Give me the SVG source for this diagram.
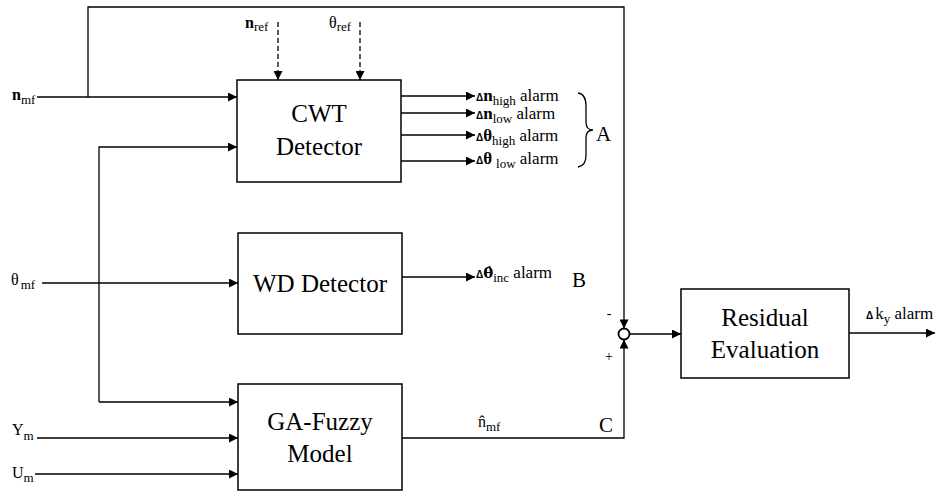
<svg xmlns="http://www.w3.org/2000/svg" width="941" height="492" viewBox="0 0 941 492" font-family="'Liberation Serif', 'DejaVu Serif', serif">
<defs>
<marker id="ah" viewBox="0 0 10 10" refX="10" refY="5" markerWidth="10" markerHeight="9" markerUnits="userSpaceOnUse" orient="auto">
<path d="M0,0 L10,5 L0,10 z" fill="#000"/>
</marker>
</defs>
<style>
.box{fill:#fff;stroke:#000;stroke-width:1.5}
.ln{fill:none;stroke:#000;stroke-width:1.3}
.arr{fill:none;stroke:#000;stroke-width:1.3;marker-end:url(#ah)}
.dash{stroke-dasharray:5 3}
.t{font-family:'Liberation Serif','DejaVu Serif',serif;fill:#000}
.big{font-size:25px;text-anchor:middle}
.lbl{font-size:17px}
.sml{font-size:16px}
.sub{font-size:13px}
.b{font-weight:bold}
.dl{font-family:'Liberation Sans','DejaVu Sans',sans-serif;font-weight:bold;font-size:10px}
.dv{font-family:'DejaVu Serif',serif;font-weight:bold;font-size:15px}
.let{font-size:21px}
</style>
<rect width="941" height="492" fill="#fff"/>
<g id="connectors">
<path class="arr" d="M37,97 L237,97"/>
<path class="arr" d="M88,97 L88,7 L624,7 L624,328.5"/>
<path class="arr" d="M99,402 L99,147 L237,147"/>
<path class="arr" d="M99,402 L238,402"/>
<path class="arr" d="M42,283 L238,283"/>
<path class="arr" d="M37,438 L238,438"/>
<path class="arr" d="M35,474 L238,474"/>
<path class="arr dash" d="M278,22 L278,80"/>
<path class="arr dash" d="M360,22 L360,80"/>
<path class="arr" d="M401,96 L475,96"/>
<path class="arr" d="M401,113 L475,113"/>
<path class="arr" d="M401,135 L475,135"/>
<path class="arr" d="M401,161 L475,161"/>
<path class="arr" d="M402,277 L475,277"/>
<path class="arr" d="M402,438 L624,438 L624,339.5"/>
<path class="arr" d="M629.5,334 L681,334"/>
<path class="arr" d="M849,333 L935,333"/>
<path class="ln" stroke-width="1.5" d="M578,93 Q586,94 586,106 L586,122 Q586,130 593,130 Q586,130 586,138 L586,155 Q586,166 578,167"/>
</g>
<g id="cwt">
<rect class="box" x="237" y="80" width="164" height="102"/>
<text class="t big" x="319" y="122">CWT</text>
<text class="t big" x="319" y="155">Detector</text>
</g>
<g id="wd">
<rect class="box" x="238" y="233" width="164" height="101"/>
<text class="t big" x="320" y="292">WD Detector</text>
</g>
<g id="gafuzzy">
<rect class="box" x="238" y="384" width="164" height="106"/>
<text class="t big" x="320" y="430">GA-Fuzzy</text>
<text class="t big" x="320" y="462">Model</text>
</g>
<g id="sum">
<circle cx="624" cy="334" r="5.5" fill="#fff" stroke="#000" stroke-width="1.8"/>
<text class="t" x="609" y="318" font-size="14" text-anchor="middle">-</text>
<text class="t" x="609" y="361" font-size="14" text-anchor="middle">+</text>
</g>
<g id="residual">
<rect class="box" x="681" y="289" width="168" height="89"/>
<text class="t big" x="765" y="326">Residual</text>
<text class="t big" x="765" y="358">Evaluation</text>
</g>
<g id="labels">
<text x="12" y="100" class="t sml"><tspan class="b">n</tspan><tspan class="sub" dy="4">mf</tspan></text>
<text x="245" y="28" class="t sml"><tspan class="b">n</tspan><tspan class="sub" dy="3">ref</tspan></text>
<text x="329" y="28" class="t sml">θ<tspan class="sub" dy="3">ref</tspan></text>
<text x="11" y="285" class="t sml">θ<tspan class="sub" dy="4" dx="2">mf</tspan></text>
<text x="12" y="435" class="t sml">Y<tspan class="sub" dy="5">m</tspan></text>
<text x="12" y="478" class="t sml">U<tspan class="sub" dy="4">m</tspan></text>
<text x="476" y="101" class="t lbl"><tspan class="dl">Δ</tspan><tspan class="b">n</tspan><tspan class="sub" dy="4">high</tspan><tspan dy="-4"> alarm</tspan></text>
<text x="476" y="119" class="t lbl"><tspan class="dl">Δ</tspan><tspan class="b">n</tspan><tspan class="sub" dy="4">low</tspan><tspan dy="-4"> alarm</tspan></text>
<text x="476" y="141" class="t lbl"><tspan class="dl">Δ</tspan><tspan class="b">θ</tspan><tspan class="sub" dy="4">high</tspan><tspan dy="-4"> alarm</tspan></text>
<text x="476" y="164" class="t lbl"><tspan class="dl">Δ</tspan><tspan class="b">θ</tspan><tspan class="sub" dy="4" dx="4">low</tspan><tspan dy="-4"> alarm</tspan></text>
<text x="596" y="141" class="t let">A</text>
<text x="476" y="278" class="t lbl"><tspan class="dl">Δ</tspan><tspan class="dv">θ̇</tspan><tspan class="sub" dy="4">inc</tspan><tspan dy="-4"> alarm</tspan></text>
<text x="572" y="287" class="t let">B</text>
<text x="478" y="427" class="t sml">n̂<tspan class="sub" dy="4">mf</tspan></text>
<text x="599" y="432" class="t let">C</text>
<text x="866" y="319" class="t lbl"><tspan class="dl">Δ</tspan><tspan dx="2">k</tspan><tspan class="sub" dy="4">y</tspan><tspan dy="-4"> alarm</tspan></text>
</g>
</svg>
